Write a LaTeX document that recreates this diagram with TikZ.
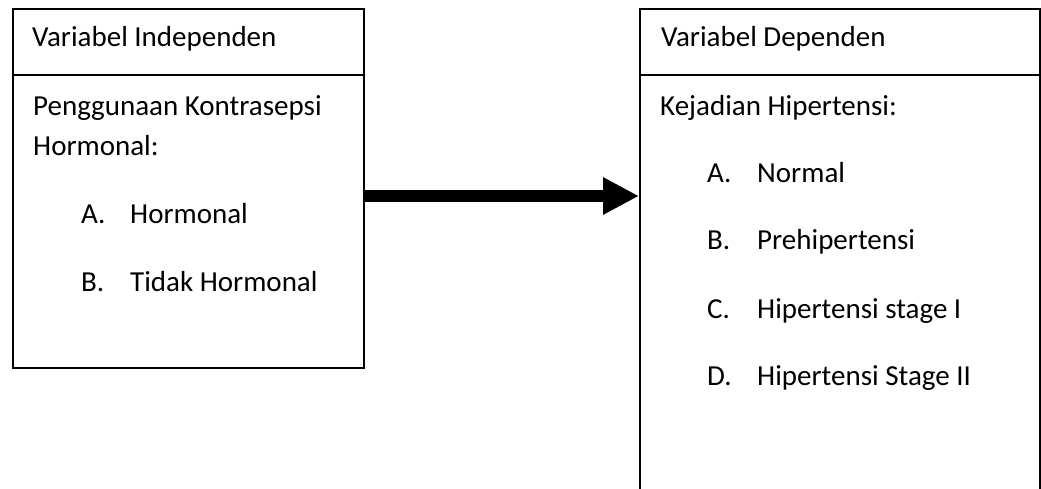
\documentclass[tikz,border=0pt]{standalone}
\usepackage{fontspec}
\setmainfont{Carlito}
\usetikzlibrary{arrows.meta}
\begin{document}
\begin{tikzpicture}[x=1pt,y=-1pt,
  box/.style={draw=black,line width=2pt,rectangle,inner sep=0pt,anchor=north west},
  txt/.style={anchor=base west,inner sep=0pt,font=\fontsize{29}{35}\selectfont},
  bigarrow/.style={line width=12pt,-{Triangle[length=36pt,width=35pt]}}]
\useasboundingbox (0,0) rectangle (1041,488);
% left box
\node[box,minimum width=351pt,minimum height=359pt] (lbox) at (12,8) {};
\draw[line width=2pt] (lbox.west |- 0,75) coordinate (ld1) -- (lbox.east |- 0,75) coordinate (ld2);
% right box
\node[box,minimum width=400pt,minimum height=520pt] (rbox) at (639,8) {};
\draw[line width=2pt] (rbox.west |- 0,75) coordinate (rd1) -- (rbox.east |- 0,75) coordinate (rd2);
% left texts
\node[txt] (lh) at (32,46) {Variabel Independen};
\node[txt] (l1) at (33,115) {Penggunaan Kontrasepsi};
\node[txt] (l2) at (33,155) {Hormonal:};
\node[txt] (la) at (81,223) {A.};
\node[txt] (lat) at (130,223) {Hormonal};
\node[txt] (lb) at (81,291) {B.};
\node[txt] (lbt) at (130,291) {Tidak Hormonal};
% right texts
\node[txt] (rh) at (661,46) {Variabel Dependen};
\node[txt] (r1) at (660,115) {Kejadian Hipertensi:};
\node[txt] (ra) at (707,182) {A.};
\node[txt] (rat) at (757,182) {Normal};
\node[txt] (rb) at (707,249) {B.};
\node[txt] (rbt) at (757,249) {Prehipertensi};
\node[txt] (rc) at (707,318) {C.};
\node[txt] (rct) at (757,318) {Hipertensi stage I};
\node[txt] (rd) at (707,385) {D.};
\node[txt] (rdt) at (757,385) {Hipertensi Stage II};
% arrow
\draw[bigarrow] (lbox.east |- 0,196) -- (rbox.west |- 0,196);
\end{tikzpicture}
\end{document}
